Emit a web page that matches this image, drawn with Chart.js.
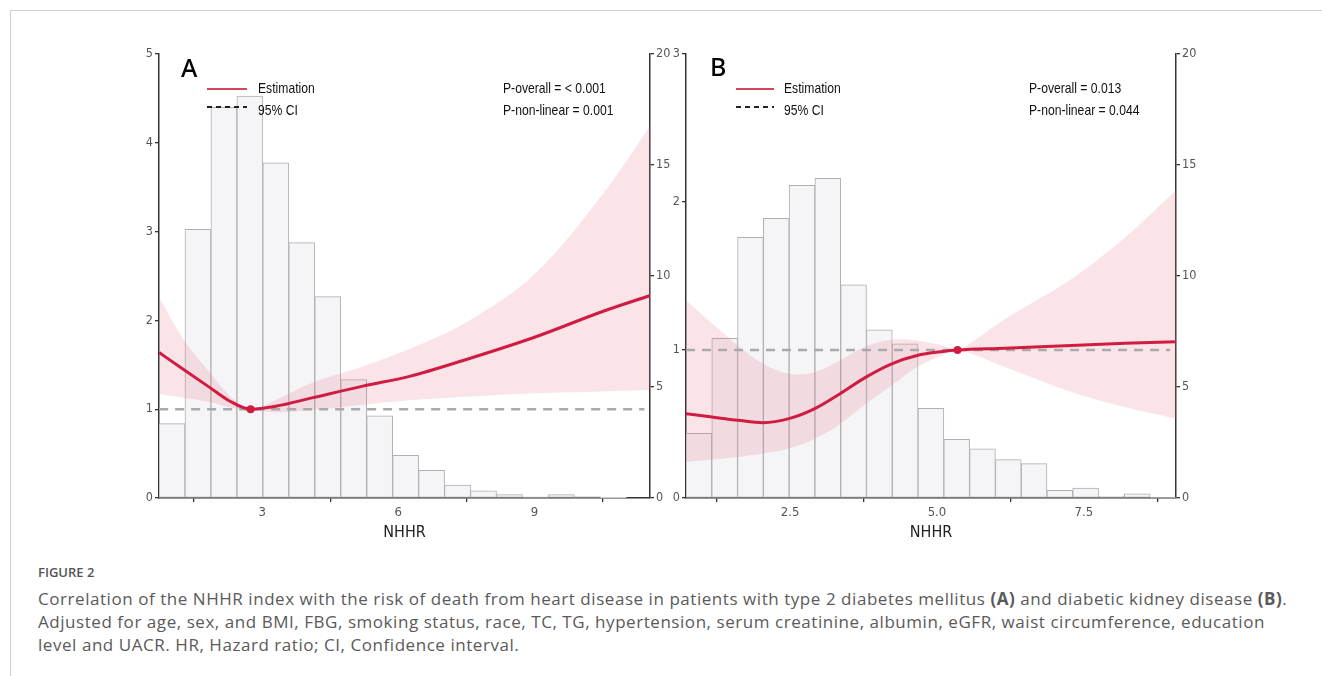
<!DOCTYPE html>
<html>
<head>
<meta charset="utf-8">
<script src="https://cdn.jsdelivr.net/npm/chart.js@4.4.1/dist/chart.umd.min.js"></script>
<style>
  html, body { margin: 0; padding: 0; background: #fff; }
  body { width: 1322px; height: 676px; position: relative; overflow: hidden; font-family: "Liberation Sans", Arial, sans-serif; }
  .frame { position: absolute; left: 10px; top: 10px; right: -2px; bottom: -2px; border-left: 1px solid #cfcfcf; border-top: 1px solid #cfcfcf; }
  canvas { position: absolute; }
  #cA { left: 120px; top: 40px; }
  #cB { left: 650px; top: 40px; }
  .lab { position: absolute; white-space: nowrap; color: #111; font-size: 15px; line-height: 15px; transform-origin: left center; transform: scaleX(.81); }
  .letter { position: absolute; font-family: "Noto Sans", sans-serif; font-weight: 500; font-size: 25px; line-height: 25px; color: #000; }
  .est { position: absolute; height: 2px; background: #cc4a5a; }
  .ci { position: absolute; height: 2px; background: repeating-linear-gradient(90deg, #222 0 5px, transparent 5px 9px); }
  .fig { position: absolute; left: 38px; top: 565px; font-family: "Open Sans", sans-serif; font-weight: 600; font-size: 13px; line-height: 14px; color: #555; }
  .cap { position: absolute; left: 38px; top: 587px; font-family: "Open Sans", sans-serif; font-size: 17px; letter-spacing: 0.55px; line-height: 23px; color: #5a5a5a; white-space: nowrap; }
  .cap b { font-weight: 700; }
</style>
</head>
<body>
<div class="frame"></div>
<canvas id="cA" width="560" height="520"></canvas>
<canvas id="cB" width="560" height="520"></canvas>

<div class="letter" style="left:181px;top:55px">A</div>
<div class="est" style="left:207px;top:88px;width:40px"></div>
<div class="ci" style="left:207px;top:106px;width:40px"></div>
<div class="lab" style="left:258px;top:80px">Estimation</div>
<div class="lab" style="left:258px;top:102px">95% CI</div>
<div class="lab" style="left:503px;top:80px">P-overall = &lt; 0.001</div>
<div class="lab" style="left:503px;top:102px">P-non-linear = 0.001</div>

<div class="letter" style="left:710px;top:54px">B</div>
<div class="est" style="left:736px;top:88px;width:38px"></div>
<div class="ci" style="left:736px;top:106px;width:38px"></div>
<div class="lab" style="left:784px;top:80px">Estimation</div>
<div class="lab" style="left:784px;top:102px">95% CI</div>
<div class="lab" style="left:1029px;top:80px">P-overall = 0.013</div>
<div class="lab" style="left:1029px;top:102px">P-non-linear = 0.044</div>

<div class="fig">FIGURE 2</div>
<div class="cap">Correlation of the NHHR index with the risk of death from heart disease in patients with type 2 diabetes mellitus <b>(A)</b> and diabetic kidney disease <b>(B)</b>.<br>Adjusted for age, sex, and BMI, FBG, smoking status, race, TC, TG, hypertension, serum creatinine, albumin, eGFR, waist circumference, education<br>level and UACR. HR, Hazard ratio; CI, Confidence interval.</div>

<script>
// panel A: type 2 diabetes
const nhhrA = [0.73, 1.26, 1.85, 2.29, 2.745, 3.32, 4.12, 5.22, 6.25, 7.5, 9.0, 10.5, 11.55];
const hrA   = [1.638, 1.45, 1.243, 1.09, 1.0, 1.035, 1.13, 1.26, 1.37, 1.56, 1.81, 2.1, 2.28];
const lowA  = [1.17, 1.13, 1.08, 1.02, 0.995, 0.965, 0.99, 1.05, 1.1, 1.14, 1.18, 1.2, 1.22];
const highA = [2.26, 1.79, 1.41, 1.15, 1.0, 1.11, 1.3, 1.48, 1.68, 1.98, 2.52, 3.42, 4.19];
const binMidA = [1.013, 1.585, 2.157, 2.729, 3.301, 3.873, 4.445, 5.017, 5.589, 6.161,
                 6.733, 7.305, 7.877, 8.449, 9.021, 9.593, 10.165, 10.737];
const pctA = [3.35, 12.1, 17.6, 18.1, 15.1, 11.5, 9.07, 5.33, 3.7, 1.92,
              1.25, 0.58, 0.32, 0.15, 0.05, 0.15, 0.06, 0.02];
const refA = [2.745, 1.0];
const xTicksA = [3, 6, 9];
const yTicksA = [0, 1, 2, 3, 4, 5];

// panel B: diabetic kidney disease
const nhhrB = [0.727, 1.17, 1.61, 2.04, 2.48, 2.92, 3.35, 3.79, 4.23, 4.66, 5.1, 5.35, 6.16, 7.29, 8.2, 9.07];
const hrB   = [0.57, 0.547, 0.525, 0.509, 0.536, 0.604, 0.705, 0.817, 0.907, 0.963, 0.99, 1.0, 1.012, 1.031, 1.045, 1.056];
const lowB  = [0.243, 0.26, 0.277, 0.3, 0.334, 0.4, 0.5, 0.637, 0.76, 0.885, 0.964, 1.0, 0.885, 0.716, 0.615, 0.536];
const highB = [1.335, 1.18, 1.03, 0.907, 0.84, 0.85, 0.93, 1.025, 1.07, 1.065, 1.03, 1.0, 1.21, 1.48, 1.76, 2.08];
const binMidB = [0.9465, 1.3855, 1.8245, 2.2635, 2.7025, 3.1415, 3.5805, 4.0195, 4.4585, 4.8975,
                 5.3365, 5.7755, 6.2145, 6.6535, 7.0925, 7.5315, 7.9705, 8.4095, 8.8485];
const pctB = [2.91, 7.19, 11.74, 12.6, 14.08, 14.4, 9.6, 7.57, 6.95, 4.04,
              2.64, 2.22, 1.73, 1.55, 0.34, 0.45, 0.07, 0.19, 0.03];
const refB = [5.35, 1.0];
const xTicksB = [2.5, 5.0, 7.5];
const yTicksB = [0, 1, 2, 3];

const pctTicks = [0, 5, 10, 15, 20];

const RED = "#d01c43";
const NARROW = "'Liberation Sans Narrow', 'DejaVu Sans Condensed', 'Liberation Sans', Arial";

const pts = (xs, ys) => xs.map((x, i) => ({ x, y: ys[i] }));
const fixTicks = (vals) => (scale) => { scale.ticks = vals.map((v) => ({ value: v })); };

function axisStyle(pos, width, vals) {
  return {
    type: "linear",
    position: pos,
    afterFit: (s) => { s.width = width; },
    afterBuildTicks: fixTicks(vals),
    grid: { drawOnChartArea: false, drawTicks: true, tickLength: 4, tickColor: "#333", lineWidth: 1.3 },
    border: { display: true, color: "#333", width: 1.5 },
    ticks: { color: "#555", font: { family: NARROW, size: 12.5 }, padding: 2 },
  };
}

function makePanel(id, p) {
  const left = axisStyle("left", p.leftW, p.yTicks);
  left.min = 0; left.max = p.yMax;
  const right = axisStyle("right", p.rightW, pctTicks);
  right.min = 0; right.max = 20;
  return new Chart(document.getElementById(id), {
    type: "line",
    data: {
      datasets: [
        { type: "scatter", data: [{ x: p.ref[0], y: p.ref[1] }], yAxisID: "y",
          pointRadius: 4, pointBackgroundColor: RED, pointBorderWidth: 0, order: 0 },
        { data: pts(p.xs, p.hr), yAxisID: "y", borderColor: RED, borderWidth: 3,
          pointRadius: 0, cubicInterpolationMode: "monotone", order: 1 },
        { data: [{ x: p.xs[0], y: 1 }, { x: p.dashEnd, y: 1 }], yAxisID: "y",
          borderColor: "#aaaaaa", borderWidth: 2.5, borderDash: [9, 7], pointRadius: 0, order: 2 },
        { data: pts(p.xs, p.high), yAxisID: "y", borderWidth: 0, borderColor: "transparent",
          pointRadius: 0, tension: 0.35, order: 3 },
        { data: pts(p.xs, p.low), yAxisID: "y", borderWidth: 0, borderColor: "transparent",
          pointRadius: 0, tension: 0.35, fill: "-1",
          backgroundColor: "rgba(232,120,140,0.2)", order: 4 },
        { type: "bar", data: pts(p.binMid, p.pct), yAxisID: "y2",
          backgroundColor: "#f5f4f6", borderColor: "#b0b0b0", borderWidth: 1,
          borderSkipped: false, barPercentage: 1, categoryPercentage: 1, grouped: false, order: 5 },
      ],
    },
    options: {
      responsive: false,
      animation: false,
      layout: { padding: { top: 14, left: 0, right: 0, bottom: 0 } },
      plugins: { legend: { display: false }, tooltip: { enabled: false } },
      scales: {
        x: {
          type: "linear", min: p.xMin, max: p.xMax, offset: false,
          afterFit: (s) => { s.height = 62; },
          afterBuildTicks: fixTicks(p.xTicks),
          grid: { drawOnChartArea: false, drawTicks: true, tickLength: 4, tickColor: "#333", lineWidth: 1.3 },
          border: { display: true, color: "#333", width: 1.5 },
          ticks: { color: "#555", font: { family: NARROW, size: 13 }, padding: 3, callback: p.xFmt },
          title: { display: true, text: "NHHR", color: "#222", padding: { top: 4, bottom: 18 },
                   font: { family: NARROW, size: 16 } },
        },
        y: left,
        y2: right,
      },
    },
  });
}

makePanel("cA", {
  xs: nhhrA, hr: hrA, low: lowA, high: highA, binMid: binMidA, pct: pctA, ref: refA,
  xMin: 0.727, xMax: 11.545, dashEnd: 11.42, yMax: 5, yTicks: yTicksA, xTicks: xTicksA,
  xFmt: (v) => String(v), leftW: 39, rightW: 30,
});
makePanel("cB", {
  xs: nhhrB, hr: hrB, low: lowB, high: highB, binMid: binMidB, pct: pctB, ref: refB,
  xMin: 0.727, xMax: 9.07, dashEnd: 8.97, yMax: 3, yTicks: yTicksB, xTicks: xTicksB,
  xFmt: (v) => Number(v).toFixed(1), leftW: 36, rightW: 34,
});
</script>
</body>
</html>
